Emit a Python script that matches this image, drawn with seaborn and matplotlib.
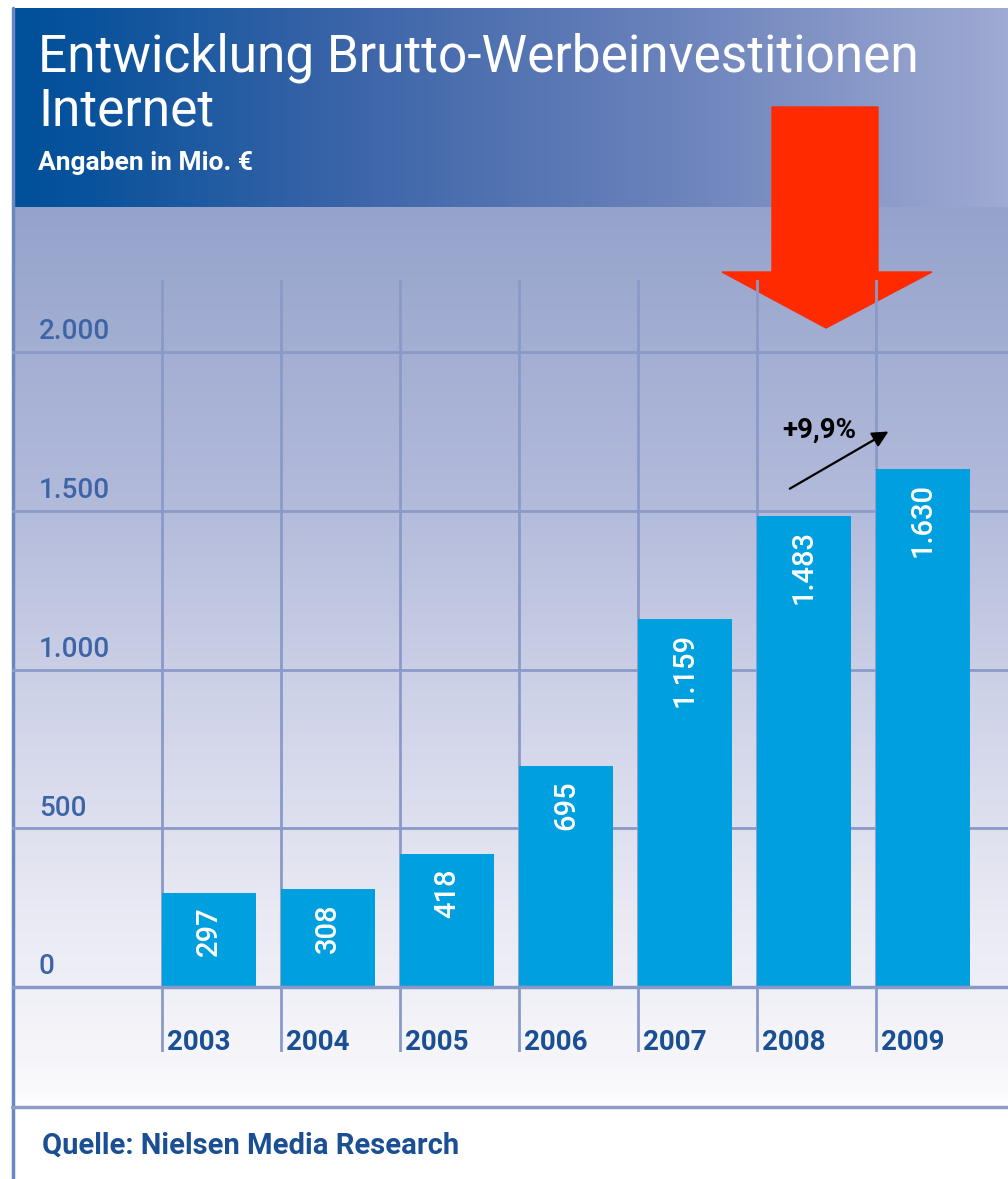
import matplotlib
matplotlib.use("Agg")
import matplotlib.pyplot as plt
import seaborn as sns
import pandas as pd
import numpy as np
from matplotlib.colors import LinearSegmentedColormap
from matplotlib.patches import Polygon
import matplotlib.transforms as mtransforms

jahre = ['2003', '2004', '2005', '2006', '2007', '2008', '2009']
werte = [297, 308, 418, 695, 1159, 1483, 1630]
werte_text = ['297', '308', '418', '695', '1.159', '1.483', '1.630']
y_ticks = [0, 500, 1000, 1500, 2000]
y_labels = ['0', '500', '1.000', '1.500', '2.000']

df = pd.DataFrame({'jahr': jahre, 'wert': werte})

sns.set_style('white')
plt.rcParams['font.family'] = ['Roboto', 'DejaVu Sans']

W, H = 1008, 1179
fig = plt.figure(figsize=(W / 100, H / 100), dpi=100)

# hintergrund in pixel-koordinaten
bg = fig.add_axes([0, 0, 1, 1])
bg.set_xlim(0, W)
bg.set_ylim(H, 0)
bg.axis('off')

# panel-verlauf (oben blau -> unten weiss)
panel_cmap = LinearSegmentedColormap.from_list(
    'panel', [(0, '#95a3cb'), (0.33, '#b3bbdb'), (0.55, '#cfd3e8'),
              (0.78, '#e8e9f3'), (0.95, '#f6f6fa'), (1, '#fdfdfe')])
grad_v = np.linspace(0, 1, 256).reshape(-1, 1)
bg.imshow(grad_v, cmap=panel_cmap, extent=[12, W, 1107, 207], aspect='auto', zorder=0)

# banner-verlauf (links dunkelblau -> rechts hell)
banner_cmap = LinearSegmentedColormap.from_list(
    'banner', [(0, '#00509a'), (0.08, '#0a539c'), (0.33, '#3a64a8'),
               (0.66, '#6a82bb'), (1, '#9faad2')])
grad_h = np.linspace(0, 1, 256).reshape(1, -1)
bg.imshow(grad_h, cmap=banner_cmap, extent=[12, W, 207, 8], aspect='auto', zorder=0)

# rahmenlinien
bg.plot([13, 13], [8, H], color='#6a88c0', lw=2.5, zorder=1)
bg.plot([12, W], [1107, 1107], color='#8f9cc8', lw=2.5, zorder=1)

# texte im banner
bg.text(38, 58, 'Entwicklung Brutto-Werbeinvestitionen', color='white',
        fontsize=37, va='center', ha='left', zorder=3)
bg.text(38, 112, 'Internet', color='white', fontsize=37, va='center', ha='left', zorder=3)
bg.text(38, 163, 'Angaben in Mio. €', color='white', fontsize=19, fontweight='bold',
        va='center', ha='left', zorder=3)

# quelle
bg.text(42, 1146, 'Quelle: Nielsen Media Research', color='#1a4f94', fontsize=21,
        fontweight='bold', va='center', ha='left', zorder=3)

# hauptdiagramm
px_l, px_r, px_t, px_b = 12, W, 280, 1052
ax = fig.add_axes([px_l / W, 1 - px_b / H, (px_r - px_l) / W, (px_b - px_t) / H])
ax.patch.set_alpha(0)

bw = 94 / 119
x0 = (162 - px_l) / 119  # abstand linker rand zur ersten gitterlinie
left = -bw / 2 - x0
scale = 635 / 2000

sns.barplot(data=df, x='jahr', y='wert', color='#00a0e0', saturation=1,
            width=bw, linewidth=0, ax=ax, zorder=3)
ax.set_xlim(left, left + (px_r - px_l) / 119)
ax.set_ylim(-(px_b - 987) / scale, (987 - px_t) / scale)

grid_col = '#8a9ac8'
for i in range(len(jahre)):
    ax.axvline(i - bw / 2, color=grid_col, lw=2, zorder=1)
for t in y_ticks:
    ax.axhline(t, color=grid_col, lw=2.5 if t == 0 else 2, zorder=2 if t else 4)

for s in ax.spines.values():
    s.set_visible(False)
ax.set_xticks([])
ax.set_yticks([])
ax.set_xlabel('')
ax.set_ylabel('')

# y-beschriftungen
trans_y = mtransforms.blended_transform_factory(bg.transData, ax.transData)
for t, lab in zip(y_ticks, y_labels):
    ax.text(39, t + 20 / scale, lab, transform=trans_y, color='#3d64a6', fontsize=20,
            fontweight='medium', ha='left', va='center', zorder=5)

# x-beschriftungen und werte in den balken
for i, (j, v, vt) in enumerate(zip(jahre, werte, werte_text)):
    ax.text(i - bw / 2 + 0.045, -175, j, color='#1a4f94', fontsize=20, fontweight='bold',
            ha='left', va='center', zorder=5)
    ax.text(i, v - 14 / scale, vt, color='white', fontsize=21, fontweight='medium',
            rotation=90, ha='center', va='top', zorder=5)

# wachstums-annotation
ax.annotate('', xy=(5.73, 1754), xytext=(4.86, 1565),
            arrowprops=dict(arrowstyle='-|>', color='black', lw=1.6, mutation_scale=24),
            zorder=6)
ax.text(5.125, 1755, '+9,9%', color='black', fontsize=20, fontweight='bold',
        ha='center', va='center', zorder=6)

# roter pfeil
bg.add_patch(Polygon([[772, 107], [878, 107], [878, 272], [932, 272], [826, 328],
                      [722, 272], [772, 272]], closed=True, color='#ff2a00', zorder=7))

fig.savefig('out.png', dpi=100)
